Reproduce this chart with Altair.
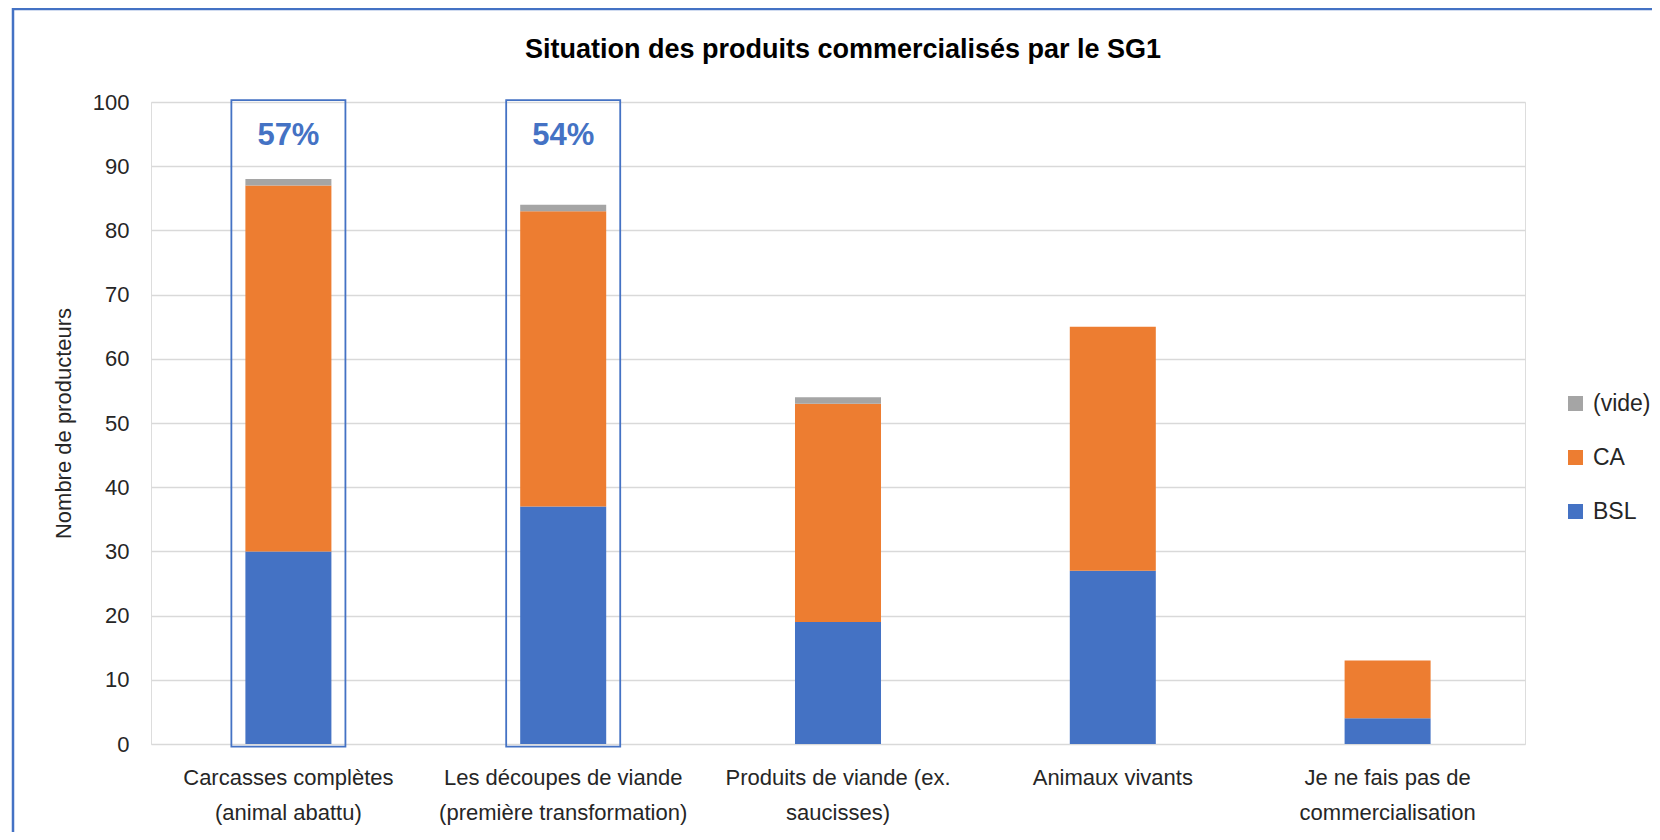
import altair as alt
import pandas as pd

title_text = "Situation des produits commercialisés par le SG1"
categories = [
    "Carcasses complètes\n(animal abattu)",
    "Les découpes de viande\n(première transformation)",
    "Produits de viande (ex.\nsaucisses)",
    "Animaux vivants",
    "Je ne fais pas de\ncommercialisation",
]
series = ["BSL", "CA", "(vide)"]
bsl = [30, 37, 19, 27, 4]
ca = [57, 46, 34, 38, 9]
vide = [1, 1, 1, 0, 0]
colors = ["#4472C4", "#ED7D31", "#A5A5A5"]

highlight_cats = [categories[0], categories[1]]
highlight_labels = ["57%", "54%"]
highlight_top = [100.3, 100.3]
highlight_bottom = [-0.4, -0.4]
highlight_label_y = [94.7, 94.7]

FONT = "Liberation Sans, Arial, sans-serif"
W, H = 1374, 642

rows = []
for i, c in enumerate(categories):
    for k, (s, vals) in enumerate(zip(series, [bsl, ca, vide])):
        rows.append({"cat": c, "serie": s, "value": vals[i], "ord": k})
df = pd.DataFrame(rows)

hl = pd.DataFrame({
    "cat": highlight_cats,
    "label": highlight_labels,
    "top": highlight_top,
    "bottom": highlight_bottom,
    "ly": highlight_label_y,
})

xscale = alt.Scale(domain=categories, paddingInner=0, paddingOuter=0)
yscale = alt.Scale(domain=[0, 100], nice=False)

x_enc = alt.X(
    "cat:N",
    scale=xscale,
    sort=categories,
    title=None,
    axis=alt.Axis(
        labelExpr="split(datum.label, '\\n')",
        labelAngle=0,
        labelFontSize=22,
        labelFont=FONT,
        labelColor="#262626",
        labelLineHeight=35,
        labelPadding=23,
        labelBaseline="top",
        labelLimit=0,
        ticks=False,
        domain=False,
        grid=False,
    ),
)

bars = alt.Chart(df).mark_bar(width=alt.RelativeBandSize(0.313)).encode(
    x=x_enc,
    y=alt.Y(
        "value:Q",
        stack="zero",
        scale=yscale,
        title="Nombre de producteurs",
        axis=alt.Axis(
            values=list(range(0, 101, 10)),
            labelFontSize=22,
            labelFont=FONT,
            labelColor="#262626",
            labelPadding=22,
            ticks=False,
            domain=False,
            gridColor="#D9D9D9",
            gridWidth=1.6,
            titleFontSize=22,
            titleFont=FONT,
            titleFontWeight="normal",
            titleColor="#262626",
            titleX=-76,
            titleY=H / 2,
            titleAngle=-90,
            titleAlign="center",
            titleBaseline="bottom",
        ),
    ),
    color=alt.Color(
        "serie:N",
        scale=alt.Scale(domain=series, range=colors),
        sort=["(vide)", "CA", "BSL"],
        legend=alt.Legend(
            title=None,
            orient="none",
            legendX=1413,
            legendY=290,
            symbolType="square",
            symbolSize=225,
            symbolStrokeWidth=0,
            labelFontSize=23,
            labelFont=FONT,
            labelColor="#262626",
            labelOffset=6,
            rowPadding=30,
            values=["(vide)", "CA", "BSL"],
        ),
    ),
    order=alt.Order("ord:Q"),
)

boxes = alt.Chart(hl).mark_bar(
    width=alt.RelativeBandSize(0.415),
    fillOpacity=0,
    stroke="#4472C4",
    strokeWidth=1.8,
).encode(
    x=alt.X("cat:N", scale=xscale, sort=categories),
    y=alt.Y("top:Q", scale=yscale),
    y2="bottom:Q",
)

labels = alt.Chart(hl).mark_text(
    fontSize=31, fontWeight="bold", font=FONT, color="#4472C4", baseline="middle"
).encode(
    x=alt.X("cat:N", scale=xscale, sort=categories),
    y=alt.Y("ly:Q", scale=yscale),
    text="label:N",
)

border = alt.Chart(alt.Data(values=[{}])).mark_rect(
    fillOpacity=0, stroke="#4472C4", strokeWidth=2.5
).encode(
    x=alt.value(-138), x2=alt.value(W + 300), y=alt.value(-93), y2=alt.value(H + 300)
)

title = alt.Chart(alt.Data(values=[{"t": title_text}])).mark_text(
    fontSize=27, fontWeight="bold", font=FONT, color="#000000",
    align="center", baseline="middle",
).encode(
    x=alt.value(W / 2 + 5), y=alt.value(-52), text="t:N"
)

chart = alt.layer(border, bars, boxes, labels, title).properties(
    width=W,
    height=H,
    padding={"left": 143, "top": 94, "right": 127, "bottom": 88},
    autosize=alt.AutoSizeParams(type="none"),
).configure_view(stroke=None).configure(background="white")

chart.save("out.html", embed_options={"renderer": "svg", "actions": False})
